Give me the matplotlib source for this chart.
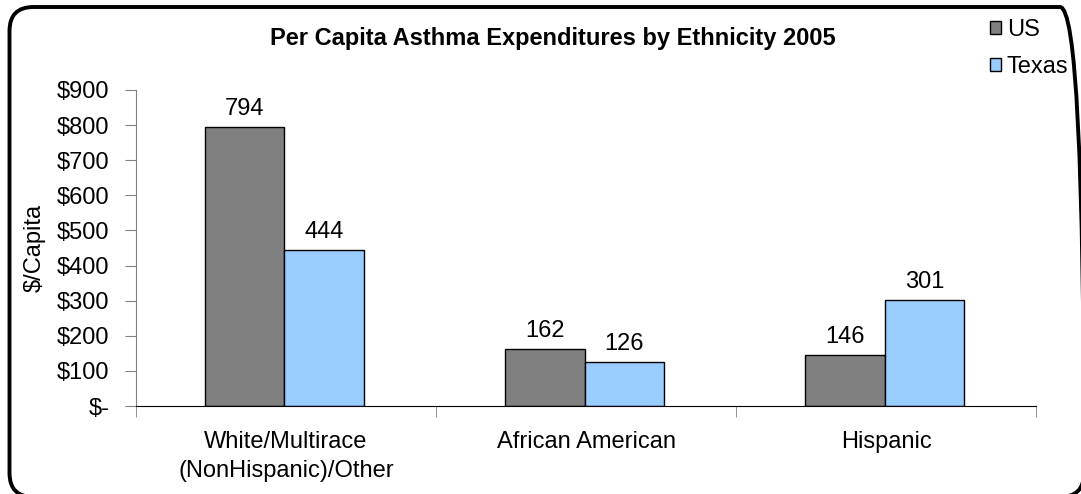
import matplotlib.pyplot as plt
import numpy as np
from matplotlib.patches import FancyBboxPatch
from matplotlib.transforms import IdentityTransform

plt.rcParams["font.family"] = ["Liberation Sans", "DejaVu Sans"]

categories = ["White/Multirace\n(NonHispanic)/Other", "African American", "Hispanic"]
us_values = [794, 162, 146]
texas_values = [444, 126, 301]
y_ticks = [0, 100, 200, 300, 400, 500, 600, 700, 800, 900]
y_tick_labels = ["$-", "$100", "$200", "$300", "$400", "$500", "$600", "$700", "$800", "$900"]

FS = 17

fig = plt.figure(figsize=(10.81, 4.94), dpi=100)
ax = fig.add_axes([0.1258, 0.178, 0.8326, 0.640])

x = np.arange(len(categories))
width = 0.265
bars_us = ax.bar(x - width / 2 - 0.005, us_values, width, color="#808080",
                 edgecolor="black", linewidth=1.0, label="US")
bars_tx = ax.bar(x + width / 2 - 0.005, texas_values, width, color="#99CCFF",
                 edgecolor="black", linewidth=1.0, label="Texas")

for bars in (bars_us, bars_tx):
    for b in bars:
        ax.annotate(f"{int(b.get_height())}",
                    (b.get_x() + b.get_width() / 2, b.get_height()),
                    xytext=(0, 5), textcoords="offset points",
                    ha="center", va="bottom", fontsize=FS)

ax.set_xlim(-0.5, 2.5)
ax.set_ylim(0, 900)
ax.set_yticks(y_ticks)
ax.set_yticklabels(y_tick_labels, fontsize=FS)
ax.set_xticks(x)
ax.set_xticklabels(categories, fontsize=FS, linespacing=1.4)
ax.tick_params(axis="x", which="major", length=0, pad=18)
ax.set_xticks([-0.5, 0.5, 1.5, 2.5], minor=True)
ax.tick_params(axis="x", which="minor", length=8, direction="out", color="#808080")
ax.tick_params(axis="y", length=8, direction="out", color="#808080", pad=11)

for side in ("top", "right"):
    ax.spines[side].set_visible(False)
ax.spines["left"].set_color("#808080")
ax.spines["bottom"].set_color("black")

ax.set_ylabel("$/Capita", fontsize=FS)
ax.yaxis.set_label_coords(-0.100, 0.5)

fig.text(0.511, 0.923, "Per Capita Asthma Expenditures by Ethnicity 2005",
         ha="center", va="center", fontsize=17, fontweight="bold")

handles, labels = ax.get_legend_handles_labels()
fig.legend(handles, labels, loc="upper left", bbox_to_anchor=(0.902, 0.993),
           frameon=False, fontsize=17, handlelength=0.45, handleheight=0.45,
           handletextpad=0.25, labelspacing=0.63, borderaxespad=0.25)

# rounded chart-area frame, running off the right and bottom edges
border = FancyBboxPatch((9.5, -3), 1074.5, 490,
                        boxstyle="round,pad=0,rounding_size=24",
                        transform=IdentityTransform(), fill=False,
                        edgecolor="black", linewidth=2.8)
fig.patches.append(border)

fig.savefig("out.png", dpi=100)
